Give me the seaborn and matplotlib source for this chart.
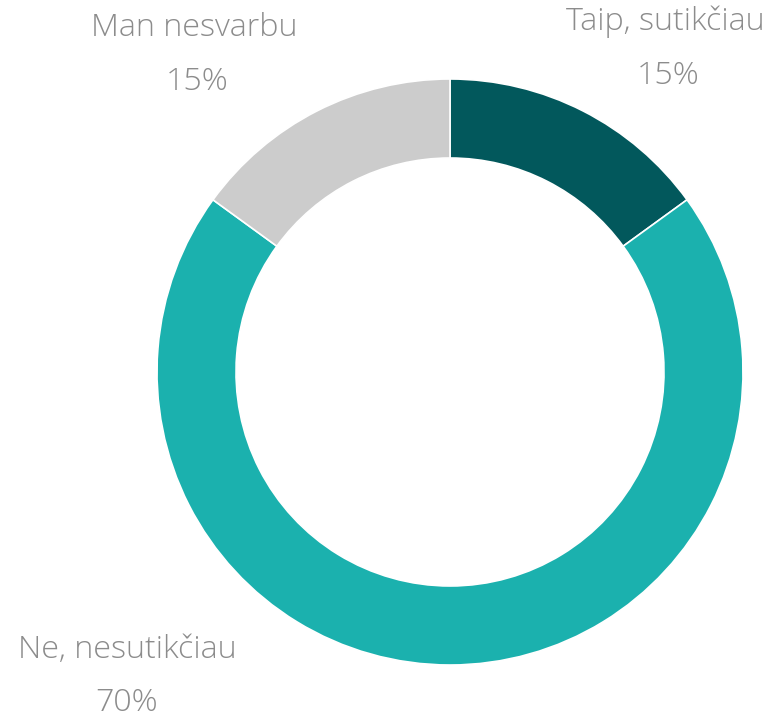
import matplotlib
matplotlib.use("Agg")
import matplotlib.pyplot as plt
import seaborn as sns

categories = ["Taip, sutikčiau", "Ne, nesutikčiau", "Man nesvarbu"]
values = [15, 70, 15]
pct_labels = ["15%", "70%", "15%"]
colors = ["#02585C", "#1BB1AE", "#CCCCCC"]

sns.set_theme(style="white")
plt.rcParams["font.family"] = ["Open Sans", "DejaVu Sans"]

W, H = 771, 719
fig = plt.figure(figsize=(W / 100, H / 100), dpi=100)
ax = fig.add_axes([0, 0, 1, 1])

ax.pie(values, colors=colors, startangle=90, counterclock=False,
       center=(450, H - 372), radius=293, frame=True,
       wedgeprops=dict(width=293 - 214, edgecolor="white", linewidth=1.2))
ax.set_xlim(0, W)
ax.set_ylim(0, H)
ax.set_aspect("equal")
ax.axis("off")

label_pos = [(665, 22, 668, 76), (127, 650, 127, 703), (194, 28, 197, 82)]
tc = "#8C8C8C"
for cat, pct, (x1, y1, x2, y2) in zip(categories, pct_labels, label_pos):
    ax.text(x1, H - y1, cat, ha="center", va="center", fontsize=23.2,
            color=tc, fontweight="light")
    ax.text(x2, H - y2, pct, ha="center", va="center", fontsize=23.2,
            color=tc, fontweight="light")

fig.savefig("out.png", dpi=100)
